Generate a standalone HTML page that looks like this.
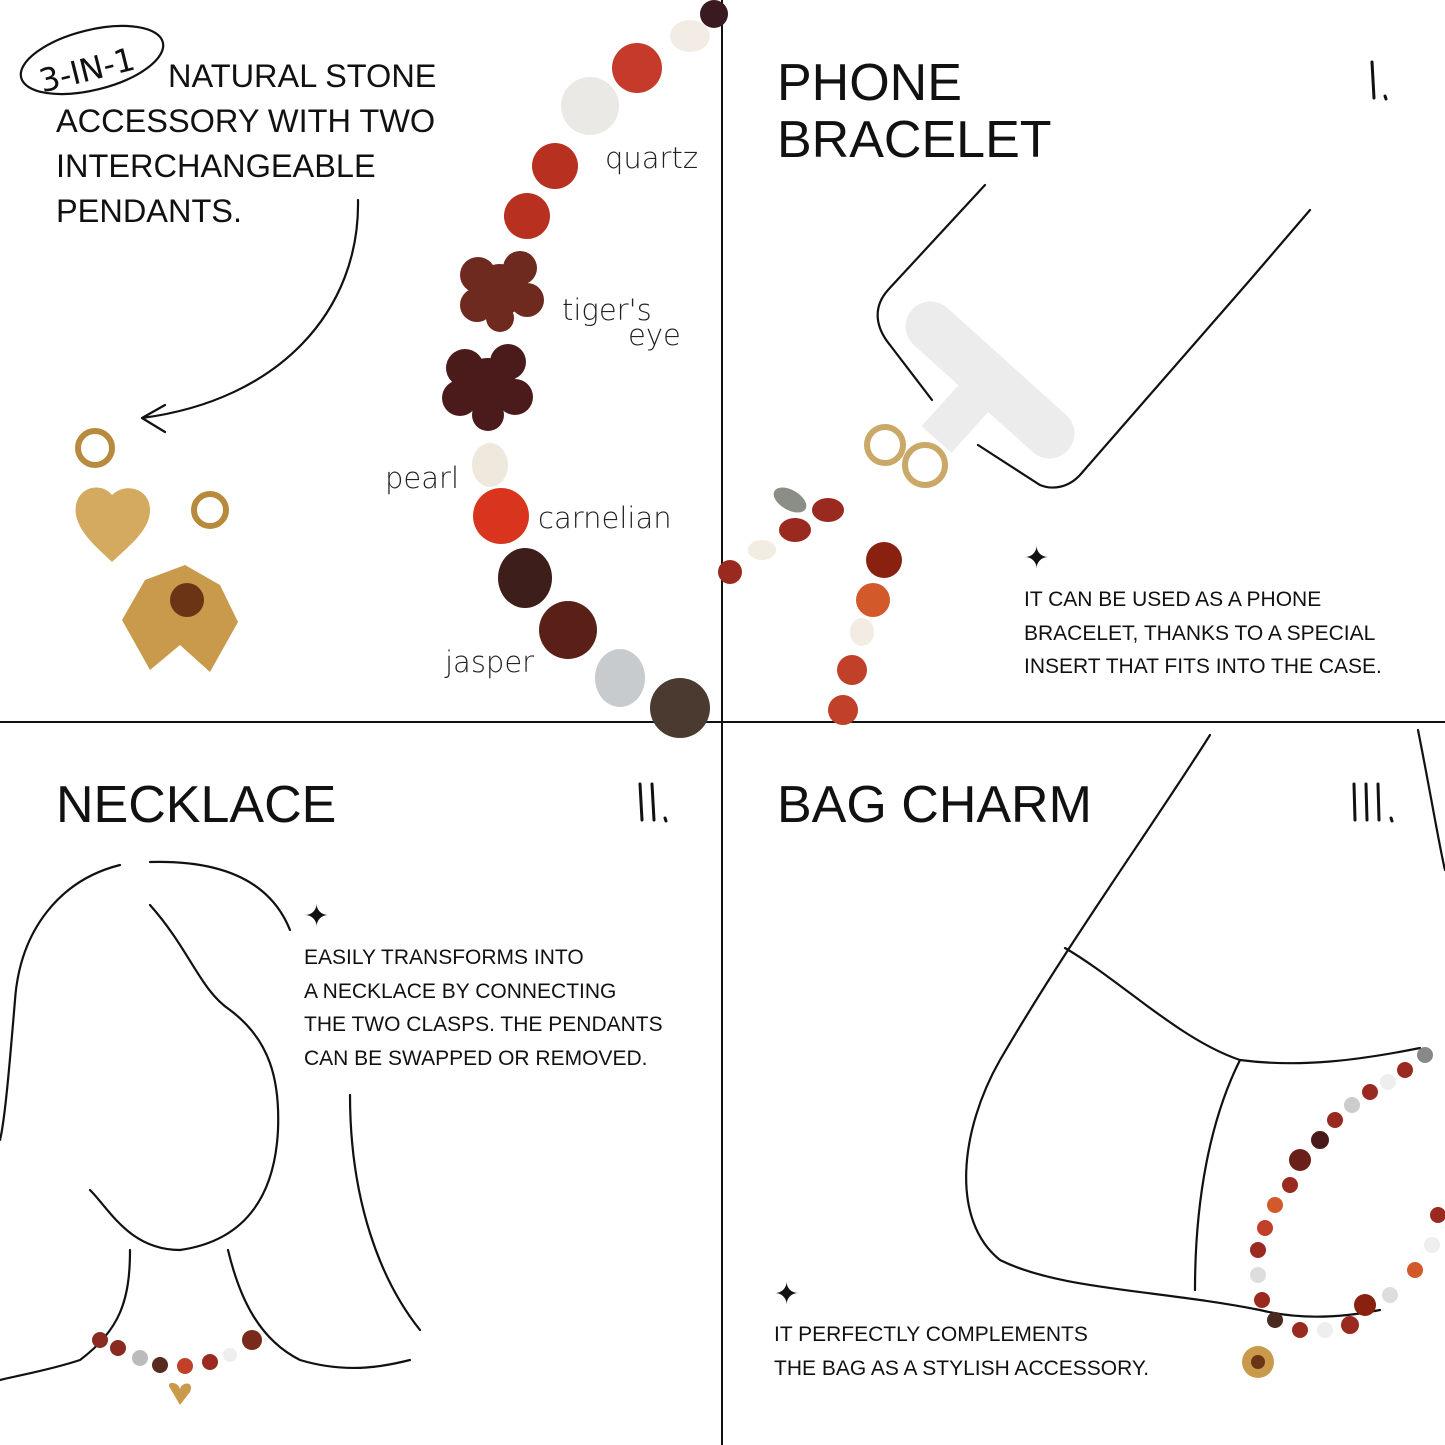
<!DOCTYPE html>
<html><head><meta charset="utf-8"><style>
html,body{margin:0;padding:0;background:#fff}
svg{display:block}
text{font-family:"Liberation Sans",sans-serif;fill:#111}
.h{font-size:32.5px}
.t{font-size:52px}
.s{font-size:21px}
.w{font-size:29px;font-family:"DejaVu Sans",sans-serif;font-weight:200;fill:#222}
.l{fill:none;stroke:#111;stroke-width:2.2;stroke-linecap:round}
.r{fill:none;stroke:#111;stroke-width:3;stroke-linecap:round}
</style></head><body>
<svg width="1445" height="1445" viewBox="0 0 1445 1445" xmlns="http://www.w3.org/2000/svg">
<rect width="1445" height="1445" fill="#fff"/>
<line x1="722" y1="0" x2="722" y2="1445" stroke="#111" stroke-width="2"/>
<line x1="0" y1="722" x2="1445" y2="722" stroke="#111" stroke-width="2"/>

<!-- Q1 -->
<ellipse cx="92" cy="60" rx="73" ry="30" transform="rotate(-14 92 60)" fill="none" stroke="#111" stroke-width="2.2"/>
<text x="36" y="80" transform="rotate(-14 90 60)" style="font-size:32px;font-family:'DejaVu Sans',sans-serif" fill="#111">3-IN-1</text>
<text class="h" x="168" y="87">NATURAL STONE</text>
<text class="h" x="56" y="132">ACCESSORY WITH TWO</text>
<text class="h" x="56" y="177">INTERCHANGEABLE</text>
<text class="h" x="56" y="222">PENDANTS.</text>
<path class="l" d="M358 200 C360 310 280 400 142 418 M142 418 L165 405 M142 418 L165 432"/>
<text class="w" x="605" y="168">quartz</text>
<text class="w" x="562" y="320">tiger's</text>
<text class="w" x="628" y="345">eye</text>
<text class="w" x="385" y="488">pearl</text>
<text class="w" x="538" y="528">carnelian</text>
<text class="w" x="445" y="672">jasper</text>
<circle cx="714" cy="14" r="14" fill="#3a1a20"/>
<ellipse cx="690" cy="36" rx="20" ry="16" fill="#f3ece4"/>
<circle cx="637" cy="68" r="25" fill="#c53a2a"/>
<circle cx="590" cy="106" r="29" fill="#ebe9e6"/>
<circle cx="555" cy="166" r="23" fill="#b8301f"/>
<circle cx="527" cy="216" r="23" fill="#b83020"/>
<g fill="#6e2a1e"><circle cx="500" cy="290" r="26"/><circle cx="478" cy="275" r="18"/><circle cx="520" cy="268" r="17"/><circle cx="527" cy="300" r="17"/><circle cx="477" cy="305" r="17"/><circle cx="500" cy="318" r="14"/></g>
<g fill="#4b1a1a"><circle cx="488" cy="386" r="28"/><circle cx="465" cy="368" r="19"/><circle cx="508" cy="362" r="18"/><circle cx="515" cy="397" r="18"/><circle cx="460" cy="398" r="18"/><circle cx="488" cy="415" r="16"/></g>
<ellipse cx="490" cy="465" rx="18" ry="22" fill="#efe8dc"/>
<circle cx="501" cy="516" r="28" fill="#d8341e"/>
<ellipse cx="525" cy="578" rx="27" ry="30" fill="#3e1e1a"/>
<circle cx="568" cy="630" r="29" fill="#5a2018"/>
<ellipse cx="620" cy="678" rx="25" ry="29" fill="#c8cbce"/>
<circle cx="680" cy="708" r="30" fill="#4a3a30"/>
<circle cx="95" cy="448" r="17" fill="none" stroke="#b88a3e" stroke-width="6"/>
<path d="M112 495 C100 480 72 488 76 515 C80 535 100 550 112 562 C130 545 150 530 150 510 C150 488 125 482 112 495Z" fill="#d4a960"/>
<circle cx="210" cy="510" r="16" fill="none" stroke="#b88a3e" stroke-width="6"/>
<path d="M122 620 L150 670 L180 645 L210 672 L238 622 L220 585 L185 565 L145 580Z" fill="#c99a4c"/>
<circle cx="187" cy="600" r="17" fill="#6b3515"/>

<!-- Q2 -->
<text class="t" x="777" y="100">PHONE</text>
<text class="t" x="777" y="157">BRACELET</text>
<path class="r" d="M1372 62 L1374 98 M1385 96 L1386 99"/>
<path class="l" d="M985 185 L888 290 C872 308 876 328 890 345 L932 400 M978 445 L1040 485 C1052 490 1068 488 1080 475 L1250 280 L1310 210"/>
<g transform="rotate(42 990 380)"><rect x="885" y="355" width="210" height="50" rx="25" fill="#ececec"/><rect x="970" y="400" width="40" height="60" fill="#ececec"/></g>
<circle cx="885" cy="445" r="18" fill="none" stroke="#c9a868" stroke-width="6"/>
<circle cx="925" cy="465" r="20" fill="none" stroke="#c9a868" stroke-width="6"/>
<ellipse cx="790" cy="500" rx="18" ry="10" fill="#8a8e86" transform="rotate(30 790 500)"/>
<g fill="#9a2a20"><ellipse cx="828" cy="510" rx="16" ry="12"/><ellipse cx="795" cy="530" rx="16" ry="12"/><circle cx="730" cy="572" r="12"/></g>
<ellipse cx="762" cy="550" rx="14" ry="10" fill="#f2ece2"/>
<circle cx="884" cy="560" r="18" fill="#8a2010"/>
<circle cx="873" cy="600" r="17" fill="#d25a2a"/>
<ellipse cx="862" cy="632" rx="12" ry="14" fill="#f2ece2"/>
<circle cx="852" cy="670" r="15" fill="#c0402a"/>
<circle cx="843" cy="710" r="15" fill="#c0402a"/>
<text x="1024" y="568" style="font-size:30px">✦</text>
<text class="s" x="1024" y="606">IT CAN BE USED AS A PHONE</text>
<text class="s" x="1024" y="640">BRACELET, THANKS TO A SPECIAL</text>
<text class="s" x="1024" y="673">INSERT THAT FITS INTO THE CASE.</text>

<!-- Q3 -->
<text class="t" x="56" y="822">NECKLACE</text>
<path class="r" d="M640 784 L642 820 M652 784 L654 820 M665 818 L666 821"/>
<path class="l" d="M120 865 C60 880 20 930 15 1000 C10 1060 5 1120 0 1140"/>
<path class="l" d="M150 862 C220 860 270 880 290 930"/>
<path class="l" d="M150 905 C190 950 200 990 230 1010 C270 1040 280 1080 278 1130 C275 1190 250 1240 180 1250 C130 1250 110 1210 90 1190"/>
<path class="l" d="M350 1095 C350 1200 380 1280 420 1330"/>
<path class="l" d="M130 1250 C130 1300 120 1330 80 1360 C50 1370 20 1375 0 1380"/>
<path class="l" d="M228 1250 C240 1300 260 1340 300 1360 C350 1375 390 1365 410 1360"/>
<g><circle cx="100" cy="1340" r="8" fill="#8a2a20"/><circle cx="118" cy="1348" r="8" fill="#8a2a20"/><circle cx="140" cy="1358" r="8" fill="#bbb"/><circle cx="160" cy="1365" r="8" fill="#5a2a20"/><circle cx="185" cy="1366" r="8" fill="#c0402a"/><circle cx="210" cy="1362" r="8" fill="#9a2a20"/><circle cx="230" cy="1355" r="7" fill="#eee"/><circle cx="252" cy="1340" r="10" fill="#7a2a1a"/><path d="M170 1388 C165 1380 180 1382 180 1390 C180 1382 195 1380 190 1392 L180 1405Z" fill="#c99a4c"/></g>
<text x="304" y="926" style="font-size:30px">✦</text>
<text class="s" x="304" y="964">EASILY TRANSFORMS INTO</text>
<text class="s" x="304" y="998">A NECKLACE BY CONNECTING</text>
<text class="s" x="304" y="1031">THE TWO CLASPS. THE PENDANTS</text>
<text class="s" x="304" y="1065">CAN BE SWAPPED OR REMOVED.</text>

<!-- Q4 -->
<text class="t" x="777" y="822">BAG CHARM</text>
<path class="r" d="M1354 784 L1355 820 M1366 784 L1367 820 M1378 784 L1379 820 M1391 818 L1392 821"/>
<path class="l" d="M1210 735 C1150 830 1070 940 1000 1060 C960 1130 950 1220 1000 1260 C1060 1290 1160 1290 1260 1310 C1300 1320 1340 1318 1380 1310"/>
<path class="l" d="M1418 730 C1430 790 1440 850 1445 870"/>
<path class="l" d="M1065 948 C1120 980 1180 1040 1240 1060 C1300 1068 1360 1060 1420 1048"/>
<path class="l" d="M1240 1060 C1210 1120 1195 1200 1195 1290"/>
<g fill="#9a2a20"><circle cx="1425" cy="1055" r="8" fill="#888"/><circle cx="1405" cy="1070" r="8"/><circle cx="1388" cy="1082" r="8" fill="#eee"/><circle cx="1370" cy="1092" r="8"/><circle cx="1352" cy="1105" r="8" fill="#ccc"/><circle cx="1335" cy="1120" r="8"/><circle cx="1320" cy="1140" r="9" fill="#4a1a1a"/><circle cx="1300" cy="1160" r="11" fill="#6a2018"/><circle cx="1290" cy="1185" r="8"/><circle cx="1275" cy="1205" r="8" fill="#d25a2a"/><circle cx="1265" cy="1228" r="8" fill="#c0402a"/><circle cx="1258" cy="1250" r="8"/><circle cx="1258" cy="1275" r="8" fill="#ddd"/><circle cx="1262" cy="1300" r="8"/><circle cx="1275" cy="1320" r="8" fill="#4a2a20"/><circle cx="1300" cy="1330" r="8"/><circle cx="1325" cy="1330" r="8" fill="#eee"/><circle cx="1350" cy="1325" r="9"/><circle cx="1365" cy="1305" r="11" fill="#8a2010"/><circle cx="1390" cy="1295" r="8" fill="#ddd"/><circle cx="1415" cy="1270" r="8" fill="#d25a2a"/><circle cx="1438" cy="1215" r="8"/><circle cx="1432" cy="1245" r="8" fill="#eee"/></g>
<circle cx="1258" cy="1362" r="16" fill="#c99a4c"/><circle cx="1258" cy="1362" r="7" fill="#6b3515"/>
<text x="774" y="1304" style="font-size:30px">✦</text>
<text class="s" x="774" y="1341">IT PERFECTLY COMPLEMENTS</text>
<text class="s" x="774" y="1375">THE BAG AS A STYLISH ACCESSORY.</text>
</svg>
</body></html>
